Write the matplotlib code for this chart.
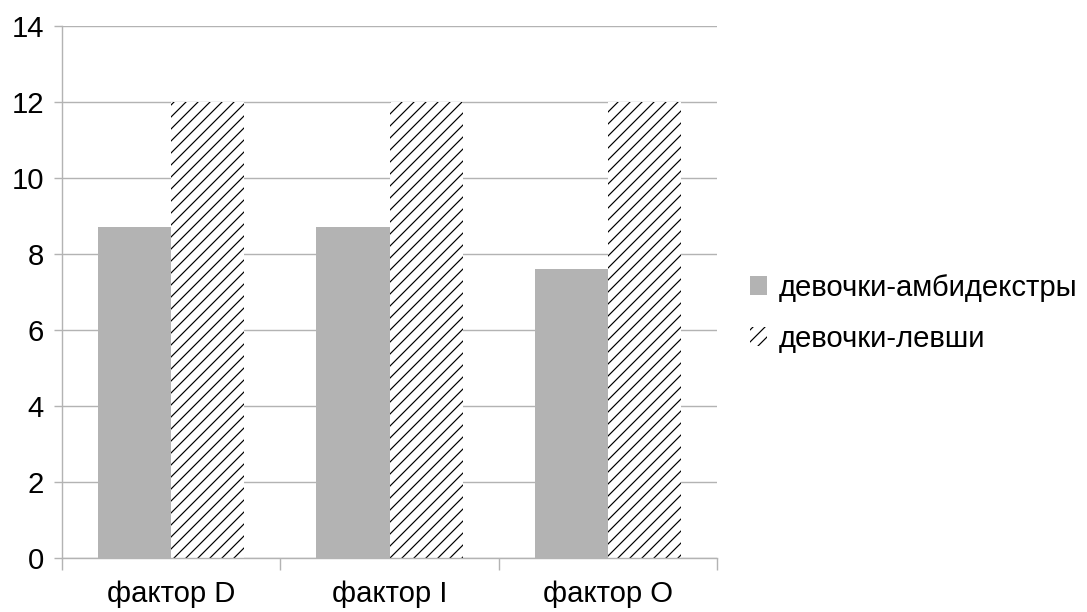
import numpy as np
import matplotlib.pyplot as plt

categories = ["фактор D", "фактор I", "фактор O"]
ambi = [8.7, 8.7, 7.6]
left = [12, 12, 12]
series_names = ["девочки-амбидекстры", "девочки-левши"]

plt.rcParams['font.family'] = ['Liberation Sans', 'DejaVu Sans']
plt.rcParams['hatch.linewidth'] = 0.6
plt.rcParams['hatch.color'] = 'black'

dpi = 144
fig = plt.figure(figsize=(1087 / dpi, 612 / dpi), dpi=dpi)
ax = fig.add_axes([62 / 1087, 1 - 558 / 612, (717 - 62) / 1087, (558 - 26) / 612])

x = np.arange(len(categories))
w = 0.335
ax.bar(x - w / 2, ambi, w, color='#b3b3b3', linewidth=0, label=series_names[0], zorder=2)
ax.bar(x + w / 2, left, w, color='white', edgecolor='black', linewidth=0,
       hatch='////', label=series_names[1], zorder=2)

ax.set_xlim(-0.5, 2.5)
ax.set_ylim(0, 14)
ax.set_yticks(range(0, 15, 2))
ax.yaxis.grid(True, color='#b3b3b3', linewidth=0.7)
ax.set_axisbelow(True)

ax.set_xticks([-0.5, 0.5, 1.5, 2.5])
ax.set_xticklabels([])
ax.set_xticks(x, minor=True)
ax.set_xticklabels(categories, minor=True)
ax.tick_params(axis='x', which='major', length=6, color='#b3b3b3', width=0.7)
ax.tick_params(axis='x', which='minor', length=0, pad=11, labelsize=14.6)
ax.tick_params(axis='y', length=4, color='#b3b3b3', width=0.7, pad=5, labelsize=14.6)

for s in ['top', 'right']:
    ax.spines[s].set_visible(False)
for s in ['left', 'bottom']:
    ax.spines[s].set_color('#b3b3b3')
    ax.spines[s].set_linewidth(0.7)

ax.legend(loc='center left', bbox_to_anchor=(1.05, 0.46), frameon=False, fontsize=14.6,
          handlelength=0.6, handleheight=0.6, handletextpad=0.4, labelspacing=0.8,
          borderaxespad=0, borderpad=0)

fig.savefig('out.png', dpi=dpi)
